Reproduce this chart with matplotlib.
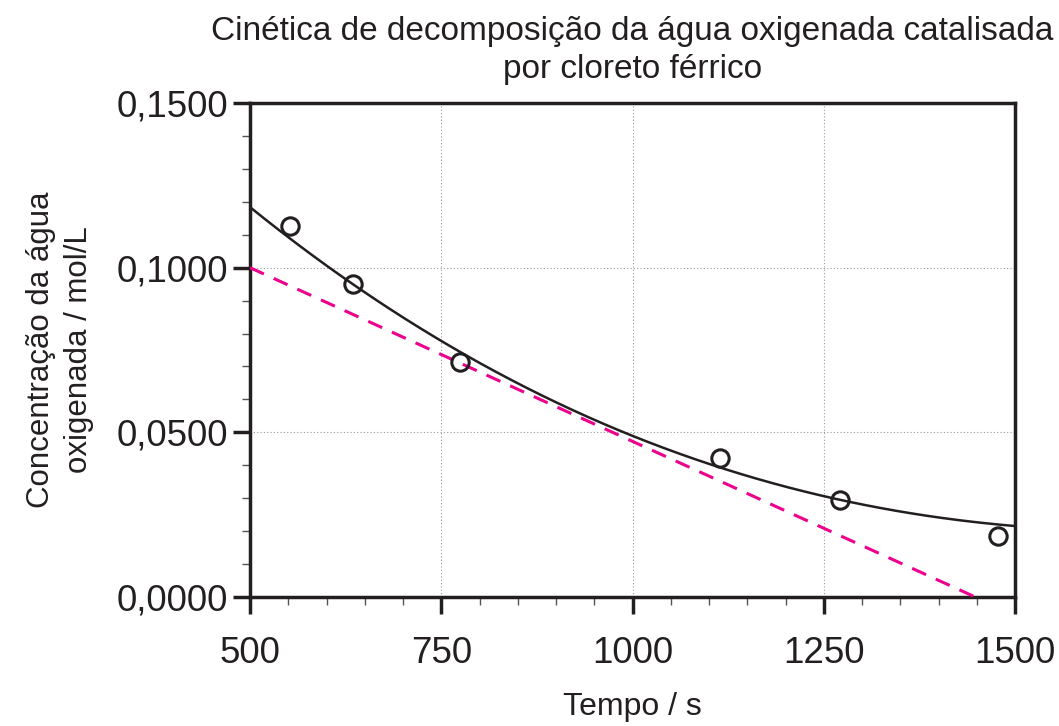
import numpy as np
import matplotlib
matplotlib.use("Agg")
import matplotlib.pyplot as plt
from matplotlib.ticker import MultipleLocator, FuncFormatter

tempo = [552, 635, 774, 1114, 1271, 1478]
conc = [0.1127, 0.0950, 0.0714, 0.0422, 0.0295, 0.0184]

# Trendline samples
curve_x = [500, 631, 751, 892, 1003, 1114, 1249, 1271, 1393, 1500]
curve_y = [0.1187, 0.0950, 0.0775, 0.0601, 0.0492, 0.0394, 0.0305, 0.0295, 0.0239, 0.0219]

# Tangent line (dashed) end points
tang_x = [500, 1448]
tang_y = [0.1000, 0.0000]

title = "Cinética de decomposição da água oxigenada catalisada\npor cloreto férrico"
xlabel = "Tempo / s"
ylabel = "Concentração da água\noxigenada / mol/L"

plt.rcParams['font.family'] = ['Liberation Sans', 'DejaVu Sans']

fig = plt.figure(figsize=(10.59, 7.26), dpi=100)
ax = fig.add_axes([250/1059, 1-597/726, (1015-250)/1059, (597-103)/726])

# smooth trendline through the read samples
coef = np.polyfit(curve_x, curve_y, 3)
xs = np.linspace(500, 1500, 200)
ax.plot(xs, np.polyval(coef, xs), color='#231f20', lw=1.8, zorder=3)

ax.plot(tang_x, tang_y, color='#ec008c', lw=2.2, dashes=(5, 3.5), zorder=3)

ax.plot(tempo, conc, linestyle='none', marker='o', markersize=12.5,
        markerfacecolor='none', markeredgecolor='#231f20', markeredgewidth=2.2, zorder=4)

ax.set_xlim(500, 1500)
ax.set_ylim(0, 0.15)
ax.xaxis.set_major_locator(MultipleLocator(250))
ax.xaxis.set_minor_locator(MultipleLocator(50))
ax.yaxis.set_major_locator(MultipleLocator(0.05))
ax.yaxis.set_minor_locator(MultipleLocator(0.01))
ax.yaxis.set_major_formatter(FuncFormatter(lambda v, p: f"{v:.4f}".replace('.', ',')))

ax.grid(True, which='major', color='#999999', linestyle=(0, (1, 2)), lw=0.8)
for s in ax.spines.values():
    s.set_linewidth(2.5)
    s.set_color('#231f20')
ax.tick_params(which='major', direction='out', length=12, width=2.5, color='#231f20',
               labelsize=26.5, labelcolor='#231f20')
ax.tick_params(which='minor', direction='out', length=6, width=1, color='#555555')
ax.tick_params(axis='x', which='major', pad=16)
ax.tick_params(axis='y', which='major', pad=4)

ax.set_title(title, fontsize=24, color='#231f20', pad=18, linespacing=1.3)
ax.set_xlabel(xlabel, fontsize=23, color='#231f20', labelpad=15)
ax.set_ylabel(ylabel, fontsize=22.5, color='#231f20', labelpad=16, linespacing=1.35)

fig.savefig("out.png", dpi=100)
